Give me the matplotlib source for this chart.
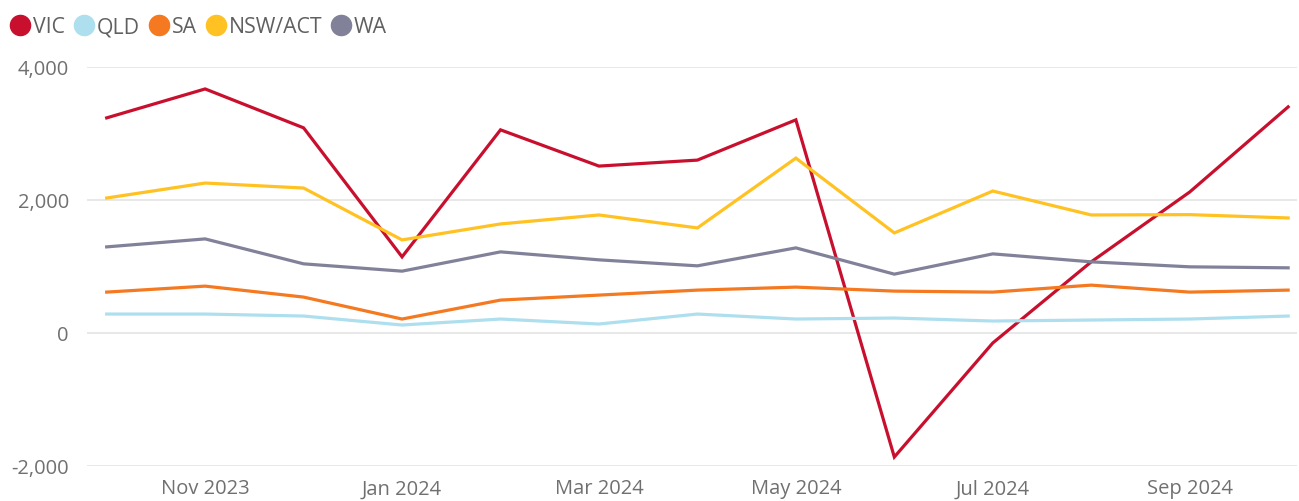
import matplotlib.pyplot as plt
from matplotlib.lines import Line2D
from matplotlib.ticker import FuncFormatter

months = ['Oct 2023', 'Nov 2023', 'Dec 2023', 'Jan 2024', 'Feb 2024', 'Mar 2024', 'Apr 2024',
          'May 2024', 'Jun 2024', 'Jul 2024', 'Aug 2024', 'Sep 2024', 'Oct 2024']

vic = [3235, 3670, 3085, 1145, 3055, 2510, 2600, 3205, -1865, -150, 1070, 2120, 3400]
qld = [285, 285, 255, 120, 210, 135, 285, 210, 225, 180, 195, 210, 255]
sa = [615, 705, 540, 210, 495, 570, 645, 690, 630, 615, 720, 615, 645]
nsw = [2030, 2255, 2180, 1400, 1640, 1775, 1580, 2630, 1505, 2135, 1775, 1780, 1730]
wa = [1295, 1415, 1040, 930, 1220, 1100, 1010, 1280, 885, 1190, 1070, 995, 980]

series = [('VIC', vic, '#C8102E'), ('QLD', qld, '#AEDFEE'), ('SA', sa, '#F47920'),
          ('NSW/ACT', nsw, '#FFC222'), ('WA', wa, '#818299')]

plt.rcParams['font.family'] = ['Open Sans', 'DejaVu Sans']

fig = plt.figure(figsize=(12.99, 5.02), dpi=100)
ax = fig.add_axes([87 / 1299, 1 - 467 / 502, (1297 - 87) / 1299, (467 - 68) / 502])

x = list(range(len(months)))
for name, vals, col in series:
    ax.plot(x, vals, color=col, lw=2.3, solid_joinstyle='miter', clip_on=False)

ax.set_xlim(-0.2, 12.09)
ax.set_ylim(-2000, 4000)
ax.set_yticks([-2000, 0, 2000, 4000])
ax.yaxis.set_major_formatter(FuncFormatter(lambda v, p: f'{int(v):,}'))
ax.set_xticks(x[1::2])
ax.set_xticklabels(months[1::2])
ax.grid(axis='y', color='#E6E6E6', lw=1.3)
ax.set_axisbelow(True)
for s in ax.spines.values():
    s.set_visible(False)
ax.tick_params(length=0, labelsize=14.5, labelcolor='#707070', pad=9)
ax.tick_params(axis='y', pad=13)

handles = [Line2D([], [], ls='none', marker='o', markersize=14.5, color=c) for _, _, c in series]
fig.legend(handles, [s[0] for s in series], loc='upper left', bbox_to_anchor=(0.0, 0.987),
           ncol=5, frameon=False, handlelength=0.9, handletextpad=0.15, columnspacing=0.45,
           fontsize=15.3, labelcolor='#606060', borderaxespad=0.1)

fig.savefig('out.png', dpi=100)
